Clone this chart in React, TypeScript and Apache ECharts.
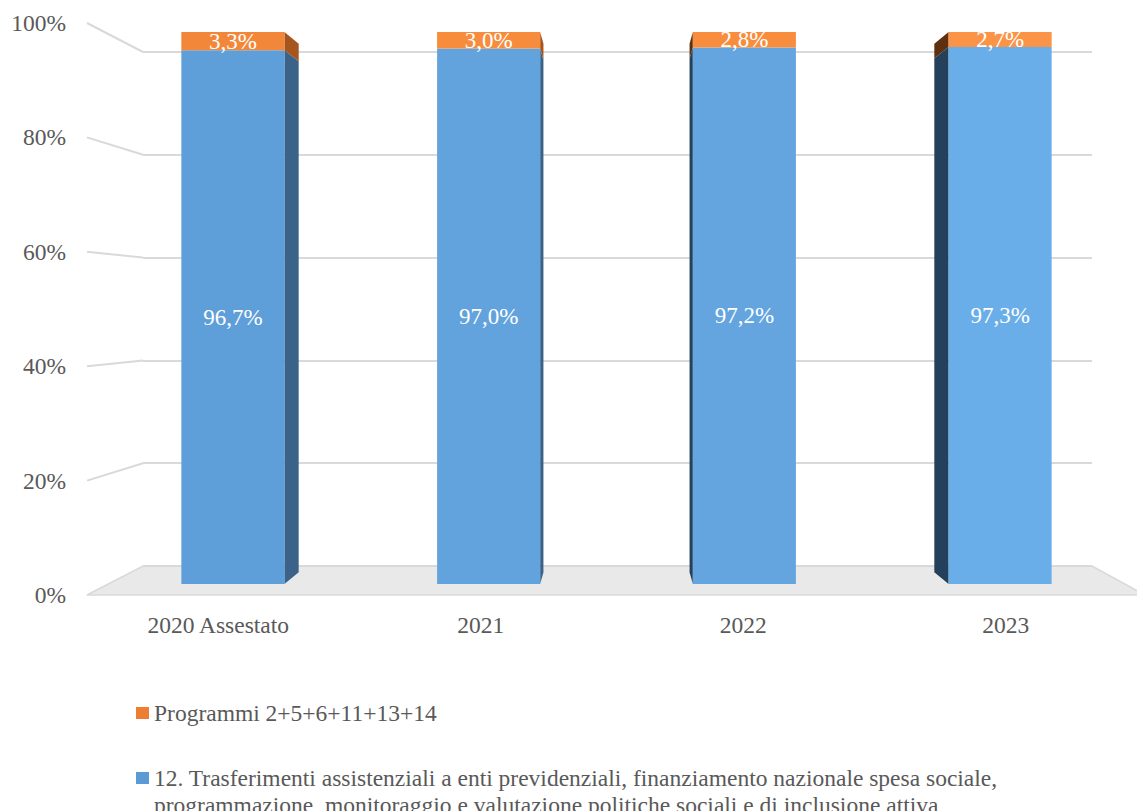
import React, { useEffect, useRef } from 'react';
import * as echarts from 'echarts';

const categories = ['2020 Assestato', '2021', '2022', '2023'];
const trasferimenti = [96.7, 97.0, 97.2, 97.3];
const programmi = [3.3, 3.0, 2.8, 2.7];
const yTicks = [0, 20, 40, 60, 80, 100];
const nameProgrammi = 'Programmi 2+5+6+11+13+14';
const nameTrasf =
  '12. Trasferimenti assistenziali a enti previdenziali, finanziamento nazionale spesa sociale, programmazione, monitoraggio e valutazione politiche sociali e di inclusione attiva';

const FONT = "'Liberation Serif', 'Times New Roman', serif";
const TEXT = '#595959';
const GRIDC = '#d9d9d9';
const BLUE = '#5b9bd5';
const ORANGE = '#ed7d31';

const BAR = { left: 105, top: 32, width: 1023, height: 552 };
const FRONT = { left: 87, top: 23, width: 1058, height: 572 };
const BACK = { left: 143, top: 52, width: 949, height: 514 };
const DEPTH = 0.043;
const BAR_RATIO = 0.403;

const blueFront = ['#5e9ed9', '#62a3de', '#64a5e0', '#6aaee9'];
const orangeFront = ['#f2873a', '#f78c3c', '#f88d3d', '#fb9446'];

const fmt = (v: number) => v.toFixed(1).replace('.', ',') + '%';

export default function App() {
  const ref = useRef<HTMLDivElement>(null);
  useEffect(() => {
    if (!ref.current) return;
    const chart = echarts.init(ref.current, null, { renderer: 'svg' });

    const sideData: number[][] = [];
    categories.forEach((_, i) => {
      sideData.push([i, 0, trasferimenti[i], 0]);
      sideData.push([i, trasferimenti[i], trasferimenti[i] + programmi[i], 1]);
    });

    const fBottom = FRONT.top + FRONT.height;
    const bBottom = BACK.top + BACK.height;
    const graphics: any[] = [
      {
        type: 'polygon',
        z: -1,
        shape: {
          points: [
            [BACK.left, bBottom],
            [BACK.left + BACK.width, bBottom],
            [FRONT.left + FRONT.width, fBottom],
            [FRONT.left, fBottom],
          ],
        },
        style: { fill: '#e9e9e9', stroke: GRIDC, lineWidth: 1.5 },
      },
    ];
    yTicks.forEach((v) => {
      if (v === 0) return;
      graphics.push({
        type: 'line',
        z: -1,
        shape: {
          x1: FRONT.left,
          y1: FRONT.top + FRONT.height * (1 - v / 100),
          x2: BACK.left,
          y2: BACK.top + BACK.height * (1 - v / 100),
        },
        style: { stroke: GRIDC, lineWidth: 2 },
      });
    });

    const legendText = { fontSize: 23.5, color: TEXT, fontFamily: FONT, lineHeight: 27 };

    const option: any = {
      animation: false,
      backgroundColor: '#ffffff',
      textStyle: { fontFamily: FONT },
      graphic: graphics,
      grid: [
        { ...BAR, containLabel: false },
        { ...FRONT, containLabel: false },
        { ...BACK, containLabel: false },
      ],
      legend: [
        {
          data: [{ name: nameProgrammi, itemStyle: { color: ORANGE } }],
          left: 136,
          top: 713 - 13.5,
          padding: 0,
          icon: 'rect',
          itemWidth: 13,
          itemHeight: 12,
          selectedMode: false,
          textStyle: legendText,
        },
        {
          data: [{ name: nameTrasf, itemStyle: { color: BLUE } }],
          left: 136,
          top: 778 - 40.5,
          padding: 0,
          icon: 'rect',
          itemWidth: 13,
          itemHeight: 12,
          selectedMode: false,
          formatter: (n: string) => '\u00a0\n' + n.replace('sociale, ', 'sociale,\n'),
          textStyle: legendText,
        },
      ],
      xAxis: [
        { type: 'category', gridIndex: 0, data: categories, show: false },
        {
          type: 'category',
          gridIndex: 1,
          data: categories,
          axisLine: { show: false },
          axisTick: { show: false },
          axisLabel: { fontSize: 23.5, color: TEXT, fontFamily: FONT, margin: 18 },
        },
        { type: 'value', gridIndex: 2, show: false, min: 0, max: 1 },
      ],
      yAxis: [
        { type: 'value', gridIndex: 0, min: 0, max: 100, show: false },
        {
          type: 'value',
          gridIndex: 1,
          min: 0,
          max: 100,
          interval: 20,
          axisLine: { show: false },
          axisTick: { show: false },
          splitLine: { show: false },
          axisLabel: {
            formatter: '{value}%',
            fontSize: 23.5,
            color: TEXT,
            fontFamily: FONT,
            margin: 21,
          },
        },
        {
          type: 'value',
          gridIndex: 2,
          min: 0,
          max: 100,
          interval: 20,
          axisLine: { show: false },
          axisTick: { show: false },
          axisLabel: { show: false },
          splitLine: { show: true, lineStyle: { color: GRIDC, width: 2 } },
        },
      ],
      series: [
        {
          name: nameTrasf,
          type: 'bar',
          stack: 'total',
          xAxisIndex: 0,
          yAxisIndex: 0,
          barWidth: (BAR_RATIO * 100).toFixed(1) + '%',
          data: trasferimenti,
          itemStyle: { color: (p: any) => blueFront[p.dataIndex] },
          label: {
            show: true,
            position: 'inside',
            color: '#ffffff',
            fontSize: 23,
            fontFamily: FONT,
            formatter: (p: any) => fmt(p.value),
          },
        },
        {
          name: nameProgrammi,
          type: 'bar',
          stack: 'total',
          xAxisIndex: 0,
          yAxisIndex: 0,
          barWidth: (BAR_RATIO * 100).toFixed(1) + '%',
          data: programmi,
          itemStyle: { color: (p: any) => orangeFront[p.dataIndex] },
          label: {
            show: true,
            position: 'inside',
            color: '#ffffff',
            fontSize: 23,
            fontFamily: FONT,
            formatter: (p: any) => fmt(p.value),
          },
        },
        {
          type: 'custom',
          xAxisIndex: 0,
          yAxisIndex: 0,
          data: sideData,
          silent: true,
          encode: { x: 0, y: [1, 2] },
          renderItem: (params: any, api: any) => {
            const cat = api.value(0);
            const lo = api.value(1);
            const hi = api.value(2);
            const seg = api.value(3);
            const cs = params.coordSys;
            const vx = cs.x + cs.width / 2;
            const vy = cs.y + cs.height / 2;
            const pLo = api.coord([cat, lo]);
            const pHi = api.coord([cat, hi]);
            const bw = api.size([1, 0])[0] * BAR_RATIO;
            const rightSide = pLo[0] < vx;
            const ex = rightSide ? pLo[0] + bw / 2 : pLo[0] - bw / 2;
            const back = (x: number, y: number) => [x + (vx - x) * DEPTH, y + (vy - y) * DEPTH];
            const pts = [[ex, pHi[1]], [ex, pLo[1]], back(ex, pLo[1]), back(ex, pHi[1])];
            const fill = rightSide
              ? seg === 0
                ? '#3b6389'
                : '#a5551d'
              : seg === 0
              ? '#25405a'
              : '#5f3010';
            return { type: 'polygon', shape: { points: pts }, style: { fill } };
          },
        },
      ],
    };
    chart.setOption(option);
    return () => chart.dispose();
  }, []);
  return (
    <div
      ref={ref}
      style={{ position: 'fixed', left: 0, top: 0, width: 1137, height: 811, background: '#fff' }}
    />
  );
}
